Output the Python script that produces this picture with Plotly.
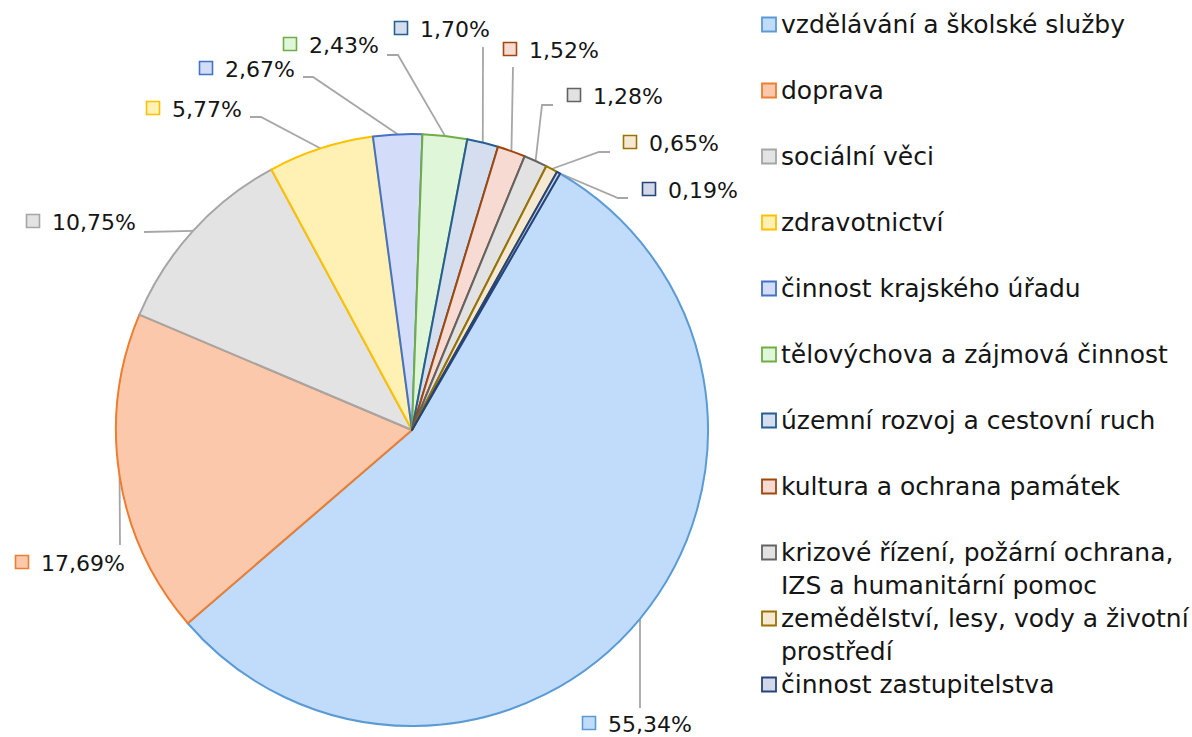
import math
import plotly.graph_objects as go

# ---------------- data ----------------
categories = [
    "vzdělávání a školské služby",
    "doprava",
    "sociální věci",
    "zdravotnictví",
    "činnost krajského úřadu",
    "tělovýchova a zájmová činnost",
    "územní rozvoj a cestovní ruch",
    "kultura a ochrana památek",
    "krizové řízení, požární ochrana, IZS a humanitární pomoc",
    "zemědělství, lesy, vody a životní prostředí",
    "činnost zastupitelstva",
]
shares = [55.34, 17.69, 10.75, 5.77, 2.67, 2.43, 1.70, 1.52, 1.28, 0.65, 0.19]

# ---------------- styles ----------------
fill_colors = ["#c0dcfa", "#fcc8ab", "#e3e3e3", "#fff0b3", "#d3ddf9", "#e0f6d9",
               "#d5deef", "#f7dbd3", "#e2e2e2", "#f6e9d3", "#d2d8ea"]
line_colors = ["#5b9bd5", "#ed7d31", "#a5a5a5", "#ffc000", "#4472c4", "#70ad47",
               "#255e91", "#9e480e", "#636363", "#997300", "#264478"]
legend_wrap = {
    "krizové řízení, požární ochrana, IZS a humanitární pomoc": "krizové řízení, požární ochrana,<br>IZS a humanitární pomoc",
    "zemědělství, lesy, vody a životní prostředí": "zemědělství, lesy, vody a životní<br>prostředí",
}

W, H = 1192, 737
CX, CY, R = 412, 430, 296
ROT = 30
FONT = "DejaVu Sans"
TXT = "#151515"
LEADER = "#a6a6a6"

# label square centres (pixels) and leader-line bend points (label side first)
label_pos = [(589, 723), (22, 562), (33, 221), (153, 108), (206, 68), (290, 44),
             (401, 28), (510, 49), (574, 95), (630, 142), (649, 189)]
leader_pts = [
    [(640, 708)],
    [(120, 545)],
    [(144, 232)],
    [(250, 117), (261, 117)],
    [(303, 77), (313, 77)],
    [(387, 55), (398, 55)],
    [(483, 47)],
    [(513, 67)],
    [(553, 105), (542, 105)],
    [(610, 152), (599, 152)],
    [(628, 198), (618, 198)],
]

fig = go.Figure()

fig.add_trace(go.Pie(
    labels=categories,
    values=shares,
    sort=False,
    direction="clockwise",
    rotation=ROT,
    textinfo="none",
    hoverinfo="label+percent",
    showlegend=False,
    marker=dict(colors=fill_colors, line=dict(color=line_colors, width=2)),
    domain=dict(x=[(CX - R) / W, (CX + R) / W],
                y=[(H - CY - R) / H, (H - CY + R) / H]),
))

total = sum(shares)
cum = 0.0
annotations = []
for i, v in enumerate(shares):
    ang = math.radians(ROT + (cum + v / 2) / total * 360)
    cum += v
    px = CX + R * math.sin(ang)
    py = CY - R * math.cos(ang)
    pts = leader_pts[i] + [(px, py)]
    fig.add_trace(go.Scatter(
        x=[p[0] for p in pts], y=[p[1] for p in pts], mode="lines",
        line=dict(color=LEADER, width=1.8), hoverinfo="skip", showlegend=False,
        xaxis="x", yaxis="y"))
    sx, sy = label_pos[i]
    fig.add_trace(go.Scatter(
        x=[sx], y=[sy], mode="markers",
        marker=dict(symbol="square", size=13, color=fill_colors[i],
                    line=dict(color=line_colors[i], width=1.6)),
        hoverinfo="skip", showlegend=False))
    annotations.append(dict(
        x=sx + 17, y=sy + 1, xref="x", yref="y", xanchor="left", yanchor="middle",
        text=f"{v:.2f}".replace(".", ",") + "%", showarrow=False,
        font=dict(family=FONT, size=22, color=TXT)))

# manual legend
LEG_X, LEG_Y0, LEG_DY = 769, 24.5, 66
for i, c in enumerate(categories):
    ly = LEG_Y0 + LEG_DY * i
    fig.add_trace(go.Scatter(
        x=[LEG_X], y=[ly], mode="markers",
        marker=dict(symbol="square", size=14, color=fill_colors[i],
                    line=dict(color=line_colors[i], width=1.8)),
        hoverinfo="skip", showlegend=False))
    txt = legend_wrap.get(c, c)
    if "<br>" in txt:
        annotations.append(dict(
            x=LEG_X + 10, y=ly - 17, xref="x", yref="y", xanchor="left", yanchor="top",
            align="left", text=txt, showarrow=False,
            font=dict(family=FONT, size=25, color=TXT)))
    else:
        annotations.append(dict(
            x=LEG_X + 10, y=ly, xref="x", yref="y", xanchor="left", yanchor="middle",
            text=txt, showarrow=False, font=dict(family=FONT, size=25, color=TXT)))

fig.update_layout(
    width=W, height=H,
    margin=dict(l=0, r=0, t=0, b=0),
    paper_bgcolor="white", plot_bgcolor="rgba(0,0,0,0)",
    xaxis=dict(range=[0, W], visible=False, fixedrange=True, domain=[0, 1]),
    yaxis=dict(range=[H, 0], visible=False, fixedrange=True, domain=[0, 1]),
    annotations=annotations,
    showlegend=False,
)

fig.write_html("out.html",
               config={"displayModeBar": False},
               post_script="document.body.style.margin='0';document.body.style.overflow='hidden';")
